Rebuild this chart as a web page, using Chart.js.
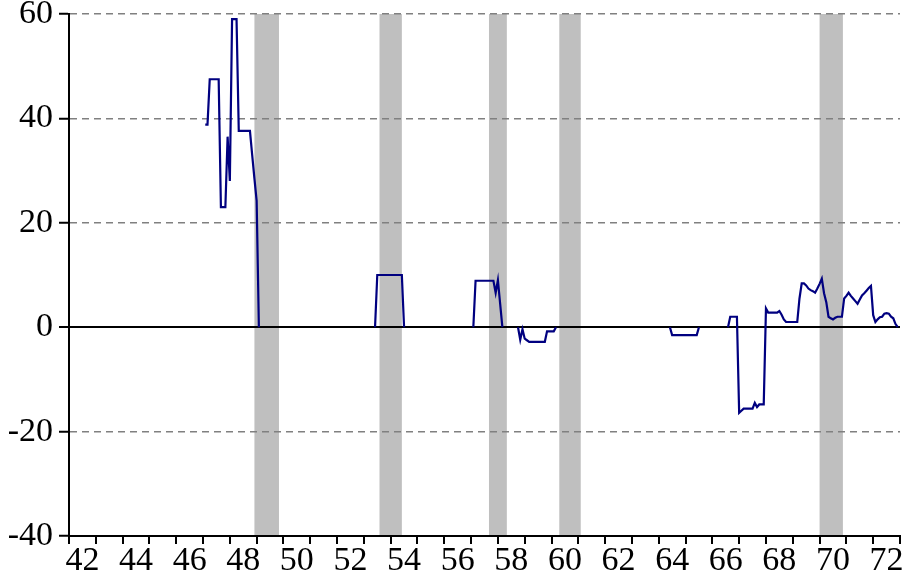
<!DOCTYPE html>
<html>
<head>
<meta charset="utf-8">
<script src="https://cdn.jsdelivr.net/npm/chart.js@4.4.0/dist/chart.umd.min.js"></script>
<style>
  html, body { margin: 0; padding: 0; background: #ffffff; }
  #wrap { width: 905px; height: 584px; }
</style>
</head>
<body>
<div id="wrap"><canvas id="c" width="905" height="584"></canvas></div>
<script>
// ---- data (monthly, segments separated by gaps) ----
const segmentStarts = ['1947-02', '1953-06', '1957-02', '1958-10', '1964-06', '1966-08'];
const segA = [38.8, 38.8, 47.5, 47.5, 47.5, 47.5, 47.5, 23, 23, 23, 36.5, 28, 59, 59, 59,
              37.6, 37.6, 37.6, 37.6, 37.6, 37.6, 33, 28.5, 24.2, 0];
const segB = [0, 10, 10, 10, 10, 10, 10, 10, 10, 10, 10, 10, 10, 0];
const segC = [0, 8.9, 8.9, 8.9, 8.9, 8.9, 8.9, 8.9, 8.9, 8.9, 6.6, 9.0, 4.5, 0];
const segD = [0, -2.4, -0.4, -2.2, -2.5, -2.8, -2.8, -2.8, -2.8, -2.8, -2.8, -2.8, -2.8,
              -0.8, -0.8, -0.8, -0.8, 0];
const segE = [0, -1.5, -1.5, -1.5, -1.5, -1.5, -1.5, -1.5, -1.5, -1.5, -1.5, -1.5, -1.5, 0];
const segF = [0, 2.0, 2.0, 2.0, 2.0, -16.4, -16.0, -15.6, -15.6, -15.6, -15.6, -15.6,
              -14.5, -15.3, -14.8, -14.8, -14.8, 3.6, 2.8, 2.8, 2.8, 2.8, 2.8, 3.1, 2.4, 1.5,
              1.0, 1.0, 1.0, 1.0, 1.0, 1.0, 5.5, 8.4, 8.4, 8.0, 7.4, 7.1, 6.9, 6.6, 7.4, 8.3,
              9.3, 6.5, 4.8, 2.0, 1.7, 1.5, 1.8, 2.0, 2.0, 2.0, 5.5, 6.0, 6.6, 6.0, 5.5, 5.0,
              4.5, 5.3, 6.1, 6.5, 7.0, 7.5, 7.9, 2.3, 1.0, 1.5, 1.9, 2.0, 2.6, 2.7, 2.6, 2.0,
              1.7, 0.6, 0];
const segments = [segA, segB, segC, segD, segE, segF];

const recessionStart = [1948.917, 1953.583, 1957.667, 1960.29, 1970.0];
const recessionEnd   = [1949.833, 1954.417, 1958.333, 1961.09, 1970.87];

const yTicks = [-40, -20, 0, 20, 40, 60];
const xTickYears = [];
for (let y = 1942; y <= 1973; y++) xTickYears.push(y);
const xLabelYears = [1942, 1944, 1946, 1948, 1950, 1952, 1954, 1956, 1958, 1960,
                     1962, 1964, 1966, 1968, 1970, 1972];

// ---- build points ----
function toYear(s) { return +s.slice(0, 4) + (+s.slice(5, 7) - 1) / 12; }
const points = [];
segments.forEach((seg, i) => {
  const t0 = toYear(segmentStarts[i]);
  seg.forEach((v, k) => points.push({ x: t0 + k / 12, y: v }));
  points.push({ x: t0 + seg.length / 12, y: null });
});

const FONT = { family: '"Liberation Serif", "Times New Roman", serif', size: 34, lineHeight: 1 };

const bandPlugin = {
  id: 'bands',
  beforeDraw(chart) {
    const { ctx, chartArea: a, scales: { x } } = chart;
    ctx.save();
    ctx.fillStyle = '#bfbfbf';
    recessionStart.forEach((s, i) => {
      const x0 = x.getPixelForValue(s);
      const x1 = x.getPixelForValue(recessionEnd[i]);
      ctx.fillRect(x0, a.top, x1 - x0, a.bottom - a.top);
    });
    ctx.restore();
  }
};

new Chart(document.getElementById('c'), {
  type: 'line',
  data: {
    datasets: [{
      data: points,
      borderColor: '#000080',
      borderWidth: 2.2,
      pointRadius: 0,
      tension: 0,
      spanGaps: false,
      fill: false
    }]
  },
  options: {
    responsive: false,
    animation: false,
    devicePixelRatio: 1,
    layout: { padding: { top: 14, right: 5, left: 0, bottom: 0 } },
    plugins: { legend: { display: false }, tooltip: { enabled: false } },
    scales: {
      x: {
        type: 'linear',
        min: 1942,
        max: 1973,
        afterBuildTicks: (s) => { s.ticks = xTickYears.map(v => ({ value: v })); },
        ticks: {
          autoSkip: false, maxRotation: 0, minRotation: 0,
          labelOffset: 13.4, padding: 0, color: '#000', font: FONT,
          callback: (v) => (xLabelYears.includes(v) ? String(v).slice(2) : '')
        },
        grid: { drawOnChartArea: false, drawTicks: true, tickLength: 8, color: '#000', lineWidth: 2 },
        border: { display: true, color: '#000', width: 2 },
        afterFit: (s) => { s.height = 48; s.paddingLeft = 0; s.paddingRight = 0; }
      },
      y: {
        min: -40,
        max: 60,
        afterBuildTicks: (s) => { s.ticks = yTicks.map(v => ({ value: v })); },
        ticks: { padding: 6, color: '#000', font: FONT, callback: (v) => String(v) },
        grid: {
          color: (c) => (c.tick && c.tick.value === 0 ? '#000' : (c.tick && c.tick.value === -40 ? 'rgba(0,0,0,0)' : '#808080')),
          lineWidth: (c) => (c.tick && c.tick.value === 0 ? 2 : 1.5),
          tickColor: '#000', tickWidth: 2, tickLength: 10, drawTicks: true, tickBorderDash: []
        },
        border: {
          display: true, color: '#000', width: 2,
          dash: (c) => (c.tick && c.tick.value !== 0 ? [7, 5] : [])
        },
        afterFit: (s) => { s.width = 69; s.paddingTop = 0; s.paddingBottom = 0; }
      }
    }
  },
  plugins: [bandPlugin]
});
</script>
</body>
</html>
